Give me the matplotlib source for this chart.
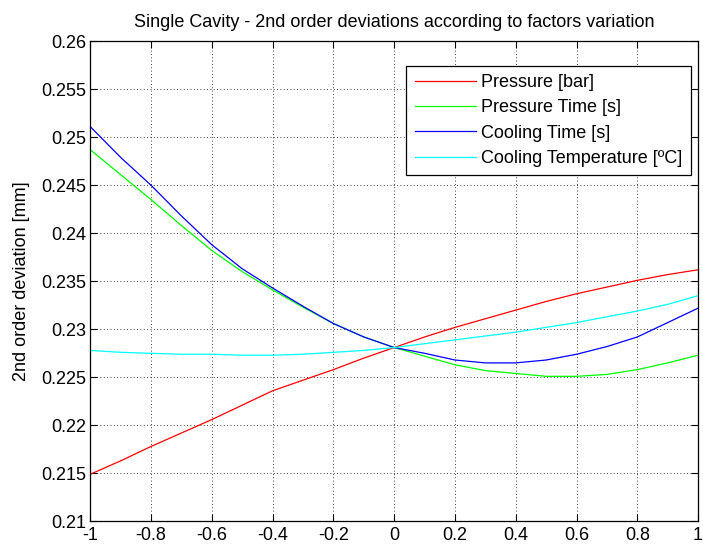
import numpy as np
import matplotlib
matplotlib.use("Agg")
import matplotlib.pyplot as plt
from matplotlib.ticker import FixedLocator

plt.rcParams['font.family'] = ['Liberation Sans', 'DejaVu Sans']

# Factor variation (coded units)
factor_level = [-1.0, -0.9, -0.8, -0.7, -0.6, -0.5, -0.4, -0.3, -0.2, -0.1, 0.0,
                0.1, 0.2, 0.3, 0.4, 0.5, 0.6, 0.7, 0.8, 0.9, 1.0]

# 2nd order deviation [mm] for each factor
pressure = [0.2149, 0.2163, 0.2178, 0.2192, 0.2206, 0.2221, 0.2236, 0.2247, 0.2258, 0.2270, 0.2281,
            0.2292, 0.2302, 0.2311, 0.2320, 0.2329, 0.2337, 0.2344, 0.2351, 0.2357, 0.2362]
pressure_time = [0.2487, 0.2461, 0.2435, 0.2408, 0.2382, 0.2360, 0.2341, 0.2323, 0.2306, 0.2292, 0.2281,
                 0.2272, 0.2263, 0.2257, 0.2254, 0.2251, 0.2251, 0.2253, 0.2258, 0.2265, 0.2273]
cooling_time = [0.2511, 0.2479, 0.2450, 0.2418, 0.2388, 0.2363, 0.2343, 0.2324, 0.2306, 0.2292, 0.2281,
                0.2275, 0.2268, 0.2265, 0.2265, 0.2268, 0.2274, 0.2282, 0.2292, 0.2307, 0.2322]
cooling_temp = [0.2278, 0.2276, 0.2275, 0.2274, 0.2274, 0.2273, 0.2273, 0.2274, 0.2276, 0.2278, 0.2281,
                0.2285, 0.2289, 0.2293, 0.2297, 0.2302, 0.2307, 0.2313, 0.2319, 0.2326, 0.2335]

series_labels = ['Pressure [bar]', 'Pressure Time [s]', 'Cooling Time [s]',
                 'Cooling Temperature [ºC]']

x_ticks = [-1, -0.8, -0.6, -0.4, -0.2, 0, 0.2, 0.4, 0.6, 0.8, 1]
x_tick_labels = ['-1', '-0.8', '-0.6', '-0.4', '-0.2', '0', '0.2', '0.4', '0.6', '0.8', '1']
y_ticks = [0.21, 0.215, 0.22, 0.225, 0.23, 0.235, 0.24, 0.245, 0.25, 0.255, 0.26]
y_tick_labels = ['0.21', '0.215', '0.22', '0.225', '0.23', '0.235', '0.24', '0.245',
                 '0.25', '0.255', '0.26']

FS = 13

fig = plt.figure(figsize=(7.03, 5.47), dpi=100, facecolor='white')
ax = fig.add_axes([0.1285, 0.047, 0.8645, 0.8775])

colors = ['#ff0000', '#00ff00', '#0000ff', '#00ffff']
for ys, c, lab in zip([pressure, pressure_time, cooling_time, cooling_temp], colors, series_labels):
    ax.plot(factor_level, ys, color=c, lw=0.9, label=lab)

ax.set_xlim(-1, 1)
ax.set_ylim(0.21, 0.26)
ax.xaxis.set_major_locator(FixedLocator(x_ticks))
ax.yaxis.set_major_locator(FixedLocator(y_ticks))
ax.set_xticklabels(x_tick_labels)
ax.set_yticklabels(y_tick_labels)
ax.tick_params(direction='in', length=5, width=0.8, top=True, right=True,
               labelsize=FS)
ax.tick_params(axis='x', pad=4)
ax.tick_params(axis='y', pad=3)
for s in ax.spines.values():
    s.set_linewidth(0.9)
    s.set_color('black')

ax.grid(True, color='black', linestyle=(0, (1, 3)), linewidth=0.6)

ax.set_title('Single Cavity - 2nd order deviations according to factors variation',
             fontsize=FS, pad=10)
ax.set_ylabel('2nd order deviation [mm]', fontsize=FS, labelpad=8)

leg = ax.legend(loc='upper right', bbox_to_anchor=(0.988, 0.9485), fontsize=FS,
                frameon=True, fancybox=False, edgecolor='black', framealpha=1,
                handlelength=3.4, handletextpad=0.3, labelspacing=0.46,
                borderpad=0.45, borderaxespad=0)
leg.get_frame().set_linewidth(0.9)

fig.savefig('out.png', dpi=100, facecolor='white')
